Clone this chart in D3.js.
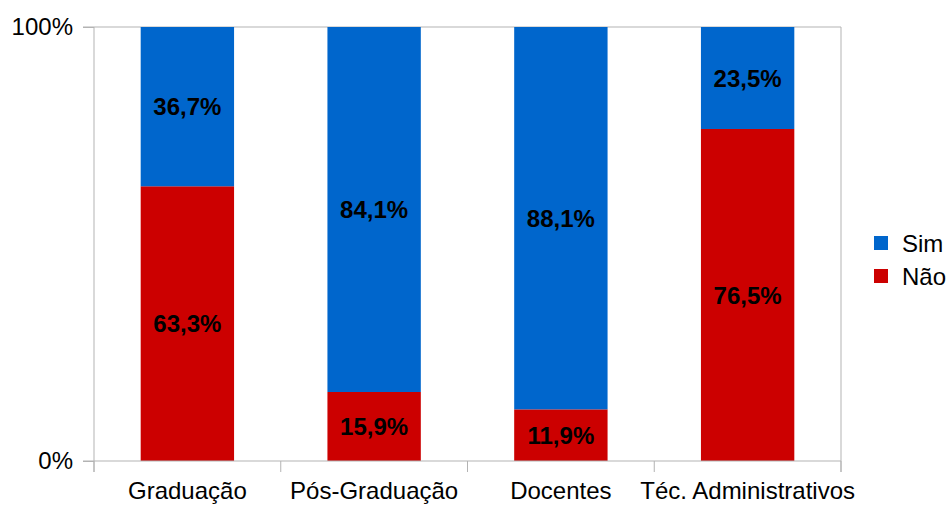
<!DOCTYPE html>
<html>
<head>
<meta charset="utf-8">
<script src="https://cdn.jsdelivr.net/npm/d3@7"></script>
<style>
  body { margin: 0; background: #fff; }
  text { font-family: "Liberation Sans", Arial, sans-serif; }
</style>
</head>
<body>
<svg id="chart" width="949" height="505"></svg>
<script>
// data
const categories = ['Graduação', 'Pós-Graduação', 'Docentes', 'Téc. Administrativos'];
const simValues = [36.7, 84.1, 88.1, 23.5];
const naoValues = [63.3, 15.9, 11.9, 76.5];
const seriesNames = ['Não', 'Sim'];
const yTickLabels = ['0%', '100%'];

const colors = { 'Sim': '#0066cc', 'Não': '#cc0000' };
const grid = '#b3b3b3';
const fontSize = 24;

const svg = d3.select('#chart');
const plot = { left: 94, right: 841, top: 27, bottom: 461 };

const x = d3.scaleBand()
  .domain(categories)
  .range([plot.left, plot.right])
  .paddingInner(0.5)
  .paddingOuter(0.25);

const y = d3.scaleLinear()
  .domain([0, 100])
  .range([plot.bottom, plot.top]);

// stack rows: Não at the bottom, Sim on top
const rows = categories.map((c, i) => ({ cat: c, 'Não': naoValues[i], 'Sim': simValues[i] }));
const stacked = d3.stack().keys(seriesNames)(rows);

// frame lines
svg.append('line')
  .attr('x1', plot.right).attr('x2', plot.right)
  .attr('y1', plot.top).attr('y2', plot.bottom + 11)
  .attr('stroke', grid);
svg.append('line')
  .attr('x1', plot.left - 11).attr('x2', plot.right)
  .attr('y1', y(100)).attr('y2', y(100))
  .attr('stroke', grid);

// bars
const layers = svg.append('g').selectAll('g')
  .data(stacked)
  .join('g')
  .attr('fill', d => colors[d.key]);

layers.selectAll('rect')
  .data(d => d)
  .join('rect')
  .attr('x', d => x(d.data.cat))
  .attr('width', x.bandwidth())
  .attr('y', d => y(d[1]))
  .attr('height', d => y(d[0]) - y(d[1]));

// data labels
layers.selectAll('text')
  .data(d => d)
  .join('text')
  .attr('x', d => x(d.data.cat) + x.bandwidth() / 2)
  .attr('y', d => (y(d[0]) + y(d[1])) / 2)
  .attr('dy', '0.36em')
  .attr('text-anchor', 'middle')
  .attr('font-size', fontSize)
  .attr('font-weight', 'bold')
  .attr('fill', '#000')
  .text(d => d3.format('.1f')(d[1] - d[0]).replace('.', ',') + '%');

// y axis
const yAxis = svg.append('g')
  .attr('transform', `translate(${plot.left},0)`)
  .call(d3.axisLeft(y).tickValues([0, 100]).tickSize(11).tickPadding(10)
    .tickFormat((d, i) => yTickLabels[i]));
yAxis.select('.domain').attr('stroke', grid).attr('d', `M0,${plot.top}V${plot.bottom + 11}`);
yAxis.selectAll('.tick line').attr('stroke', grid);
yAxis.selectAll('.tick text')
  .attr('font-size', fontSize)
  .attr('font-family', '"Liberation Sans", Arial, sans-serif')
  .attr('fill', '#000');

// x axis: ticks at the band boundaries
const bandEdges = d3.range(categories.length + 1)
  .map(i => plot.left + i * (plot.right - plot.left) / categories.length);
const xAxis = svg.append('g');
xAxis.append('line')
  .attr('x1', plot.left - 11).attr('x2', plot.right)
  .attr('y1', plot.bottom).attr('y2', plot.bottom)
  .attr('stroke', grid);
xAxis.selectAll('line.tick')
  .data(bandEdges)
  .join('line')
  .attr('class', 'tick')
  .attr('x1', d => d).attr('x2', d => d)
  .attr('y1', plot.bottom).attr('y2', plot.bottom + 11)
  .attr('stroke', grid);
xAxis.selectAll('text')
  .data(categories)
  .join('text')
  .attr('x', d => x(d) + x.bandwidth() / 2)
  .attr('y', 499)
  .attr('text-anchor', 'middle')
  .attr('font-size', fontSize)
  .attr('fill', '#000')
  .text(d => d);

// legend
const legend = svg.append('g')
  .selectAll('g')
  .data(['Sim', 'Não'])
  .join('g')
  .attr('transform', (d, i) => `translate(874,${236 + i * 33})`);
legend.append('rect')
  .attr('width', 14).attr('height', 14)
  .attr('fill', d => colors[d]);
legend.append('text')
  .attr('x', 28).attr('y', 7)
  .attr('dy', '0.36em')
  .attr('font-size', fontSize)
  .attr('fill', '#000')
  .text(d => d);
</script>
</body>
</html>
